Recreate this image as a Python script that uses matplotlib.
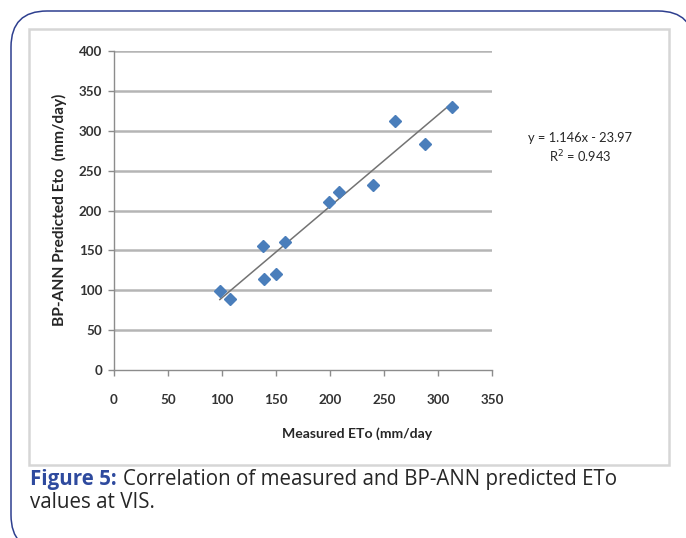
import matplotlib
matplotlib.use("Agg")
import matplotlib.pyplot as plt
from matplotlib.patches import FancyBboxPatch, Rectangle
import numpy as np

# Data
measured = [98, 107, 138, 139, 150, 158, 199, 208, 240, 260, 288, 313]
predicted = [99, 89, 156, 114, 120, 160, 211, 223, 232, 312, 283, 330]
slope, intercept = 1.146, -23.97
x_ticks = [0, 50, 100, 150, 200, 250, 300, 350]
y_ticks = [0, 50, 100, 150, 200, 250, 300, 350, 400]
x_label = "Measured ETo (mm/day"
y_label = "BP-ANN Predicted Eto  (mm/day)"
eq_text = "y = 1.146x - 23.97"
r2_text = "R$^2$ = 0.943"
cap_bold = "Figure 5:"
cap_rest1 = "Correlation of measured and BP-ANN predicted ETo"
cap_line2 = "values at VIS."

W, H = 686, 538
fig = plt.figure(figsize=(W / 100, H / 100), dpi=100)
fig.patch.set_facecolor("white")

# Background overlay in pixel coordinates
bg = fig.add_axes([0, 0, 1, 1], zorder=0)
bg.set_xlim(0, W)
bg.set_ylim(H, 0)
bg.axis("off")
outer = FancyBboxPatch((11, 11), 683, 540, boxstyle="round,pad=0,rounding_size=36",
                       fc="white", ec="#2e3f8f", lw=1.1)
bg.add_patch(outer)
inner = Rectangle((29, 29), 640, 436, fc="white", ec="#d6d6d6", lw=1.8)
bg.add_patch(inner)

chart_font = ["Lato", "DejaVu Sans"]
txt_color = "#333333"

# Main axes
x0, x1 = 114, 492
y0, y1 = 370, 51
ax = fig.add_axes([x0 / W, (H - y0) / H, (x1 - x0) / W, (y0 - y1) / H], zorder=2)
ax.patch.set_alpha(0)
ax.set_xlim(0, 350)
ax.set_ylim(0, 400)
ax.set_xticks(x_ticks)
ax.set_yticks(y_ticks)
ax.set_xticklabels([str(v) for v in x_ticks])
ax.set_yticklabels([str(v) for v in y_ticks])
for lab in ax.get_xticklabels() + ax.get_yticklabels():
    lab.set_fontfamily(chart_font)
    lab.set_fontweight("bold")
    lab.set_fontsize(9.6)
    lab.set_color(txt_color)
ax.tick_params(axis="x", direction="out", length=4, width=1, color="#8c8c8c", pad=13)
ax.tick_params(axis="y", direction="out", length=4.5, width=1, color="#8c8c8c", pad=4)
for s in ["top", "right"]:
    ax.spines[s].set_visible(False)
for s in ["left", "bottom"]:
    ax.spines[s].set_color("#8c8c8c")
    ax.spines[s].set_linewidth(1.0)
for yv in y_ticks[1:]:
    ax.axhline(yv, color="#b5b5b5", lw=1.8, zorder=1)

# Trend line
xs = np.array([min(measured), max(measured)])
ax.plot(xs, slope * xs + intercept, color="#737373", lw=1.1, zorder=3)

# Points
ax.plot(measured, predicted, linestyle="none", marker="D", ms=6.3,
        mfc="#4a7ebb", mec="#4a7ebb", zorder=4)

# Axis labels (figure pixel coords)
bg.text(357, 434, x_label, ha="center", va="center", fontsize=10.1,
        fontweight="bold", color="#262626", family=chart_font, zorder=3)
bg.text(59, 210, y_label, ha="center", va="center", rotation=90, fontsize=11.2,
        fontweight="bold", color="#262626", family=chart_font, zorder=3)

# Equation
bg.text(580, 138, eq_text, ha="center", va="center", fontsize=9.3,
        color="#262626", family=chart_font, zorder=3)
bg.text(580, 157, r2_text, ha="center", va="center", fontsize=9.3,
        color="#262626", family=chart_font, zorder=3)

# Caption
cap_font = ["Open Sans", "DejaVu Sans"]
cap_size = 14.8
t1 = bg.text(30, 485, cap_bold, ha="left", va="baseline", fontsize=cap_size,
             fontweight="bold", color="#2e4a9e", family=cap_font, zorder=3)
fig.canvas.draw()
r = fig.canvas.get_renderer()
ext = t1.get_window_extent(r)
bg.text(ext.x1 + 6, 485, cap_rest1, ha="left", va="baseline", fontsize=cap_size,
        color="#262626", family=cap_font, zorder=3)
bg.text(30, 508, cap_line2, ha="left", va="baseline", fontsize=cap_size,
        color="#262626", family=cap_font, zorder=3)

fig.savefig("out.png", dpi=100)
